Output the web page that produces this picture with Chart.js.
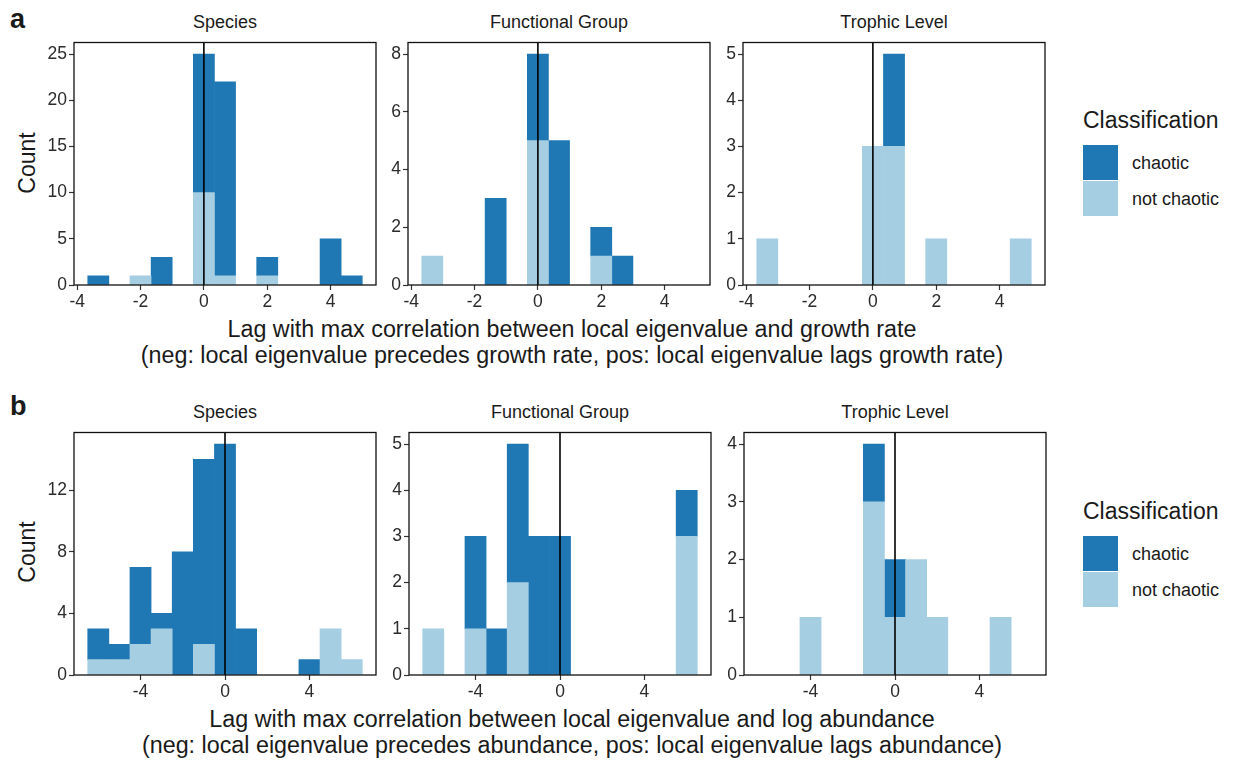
<!DOCTYPE html>
<html>
<head>
<meta charset="utf-8">
<script src="https://cdn.jsdelivr.net/npm/chart.js@4.4.0/dist/chart.umd.min.js"></script>
<style>
  body { margin: 0; background: #fff; font-family: "Liberation Sans", Arial, sans-serif; color: #1a1a1a; }
  #wrap { position: relative; width: 1233px; height: 763px; overflow: hidden; }
  canvas { position: absolute; }
  .txt { position: absolute; white-space: nowrap; line-height: 1; }
  .strip { font-size: 18px; transform: translateX(-50%); }
  .xtitle { font-size: 23.3px; transform: translateX(-50%); text-align: center; line-height: 26px; }
  .ytitle { font-size: 23px; transform: translate(-50%, -50%) rotate(-90deg); }
  .tag { font-size: 27px; font-weight: bold; }
  .lgtitle { font-size: 23px; }
  .key { position: absolute; width: 35px; height: 35px; }
  .lglab { font-size: 18px; }
</style>
</head>
<body>
<div id="wrap">
  <div class="txt tag" style="left:10px; top:6px;">a</div>
  <div class="txt tag" style="left:10px; top:393px;">b</div>

  <div class="txt strip" style="left:225px; top:13px;">Species</div>
  <div class="txt strip" style="left:559px; top:13px;">Functional Group</div>
  <div class="txt strip" style="left:894px; top:13px;">Trophic Level</div>
  <div class="txt strip" style="left:225px; top:403px;">Species</div>
  <div class="txt strip" style="left:560px; top:403px;">Functional Group</div>
  <div class="txt strip" style="left:895px; top:403px;">Trophic Level</div>

  <div class="txt ytitle" style="left:27px; top:163px;">Count</div>
  <div class="txt ytitle" style="left:27px; top:552px;">Count</div>

  <div class="txt xtitle" style="left:572px; top:316px;">Lag with max correlation between local eigenvalue and growth rate<br>(neg: local eigenvalue precedes growth rate, pos: local eigenvalue lags growth rate)</div>
  <div class="txt xtitle" style="left:572px; top:706px;">Lag with max correlation between local eigenvalue and log abundance<br>(neg: local eigenvalue precedes abundance, pos: local eigenvalue lags abundance)</div>

  <div class="txt lgtitle" style="left:1083px; top:109px;">Classification</div>
  <div class="key" style="left:1083px; top:145px; background:#1F78B4;"></div>
  <div class="key" style="left:1083px; top:181px; background:#A6CEE3;"></div>
  <div class="txt lglab" style="left:1132px; top:154px;">chaotic</div>
  <div class="txt lglab" style="left:1132px; top:190px;">not chaotic</div>

  <div class="txt lgtitle" style="left:1083px; top:500px;">Classification</div>
  <div class="key" style="left:1083px; top:536px; background:#1F78B4;"></div>
  <div class="key" style="left:1083px; top:572px; background:#A6CEE3;"></div>
  <div class="txt lglab" style="left:1132px; top:545px;">chaotic</div>
  <div class="txt lglab" style="left:1132px; top:581px;">not chaotic</div>

  <canvas id="a1"></canvas>
  <canvas id="a2"></canvas>
  <canvas id="a3"></canvas>
  <canvas id="b1"></canvas>
  <canvas id="b2"></canvas>
  <canvas id="b3"></canvas>
</div>
<script>
// bin centres (lag) for each row
var binsA = [-3.333, -2.667, -2, -1.333, -0.667, 0, 0.667, 1.333, 2, 2.667, 3.333, 4, 4.667];
var binsB = [-6, -5, -4, -3, -2, -1, 0, 1, 2, 3, 4, 5, 6];

// row a: growth rate
var speciesA_not   = [0, 0, 1, 0, 0, 10, 1, 0, 1, 0, 0, 0, 0];
var speciesA_chaos = [1, 0, 0, 3, 0, 15, 21, 0, 2, 0, 0, 5, 1];
var groupA_not     = [1, 0, 0, 0, 0, 5, 0, 0, 1, 0, 0, 0, 0];
var groupA_chaos   = [0, 0, 0, 3, 0, 3, 5, 0, 1, 1, 0, 0, 0];
var trophicA_not   = [1, 0, 0, 0, 0, 3, 3, 0, 1, 0, 0, 0, 1];
var trophicA_chaos = [0, 0, 0, 0, 0, 0, 2, 0, 0, 0, 0, 0, 0];

// row b: log abundance
var speciesB_not   = [1, 1, 2, 3, 0, 2, 0, 0, 0, 0, 0, 3, 1];
var speciesB_chaos = [2, 1, 5, 1, 8, 12, 15, 3, 0, 0, 1, 0, 0];
var groupB_not     = [1, 0, 1, 0, 2, 0, 0, 0, 0, 0, 0, 0, 3];
var groupB_chaos   = [0, 0, 2, 1, 3, 3, 3, 0, 0, 0, 0, 0, 1];
var trophicB_not   = [0, 0, 1, 0, 0, 3, 1, 2, 1, 0, 0, 1, 0];
var trophicB_chaos = [0, 0, 0, 0, 0, 1, 1, 0, 0, 0, 0, 0, 0];

// tick labels
var xTicksA = [-4, -2, 0, 2, 4];
var xTicksB = [-4, 0, 4];
var yTicksA1 = [0, 5, 10, 15, 20, 25];
var yTicksA2 = [0, 2, 4, 6, 8];
var yTicksA3 = [0, 1, 2, 3, 4, 5];
var yTicksB1 = [0, 4, 8, 12];
var yTicksB2 = [0, 1, 2, 3, 4, 5];
var yTicksB3 = [0, 1, 2, 3, 4];

var DARK = '#1F78B4';
var LIGHT = '#A6CEE3';
var AXW = 45, PADT = 10, PADR = 5, AXH = 36;
var PW = 302, PH = 245;

var framePlugin = {
  id: 'frame',
  afterDatasetsDraw: function(chart) {
    var ctx = chart.ctx, a = chart.chartArea;
    var px = chart.scales.x.getPixelForValue(0);
    ctx.save();
    ctx.strokeStyle = '#000';
    ctx.lineWidth = 1.6;
    ctx.beginPath();
    ctx.moveTo(px, a.top);
    ctx.lineTo(px, a.bottom);
    ctx.stroke();
    ctx.lineWidth = 1.3;
    ctx.strokeStyle = '#111';
    ctx.strokeRect(a.left, a.top, a.right - a.left, a.bottom - a.top);
    ctx.restore();
  }
};

function points(bins, vals) {
  return bins.map(function(b, i) { return {x: b, y: vals[i] === 0 ? null : vals[i]}; });
}

function panel(id, left, top, bins, notVals, chaosVals, xr, xTicks, yMax, yTicks) {
  var cv = document.getElementById(id);
  cv.width = AXW + PW + PADR;
  cv.height = PADT + PH + AXH;
  cv.style.left = (left - AXW) + 'px';
  cv.style.top = (top - PADT) + 'px';

  new Chart(cv, {
    type: 'bar',
    data: {
      datasets: [
        {label: 'not chaotic', data: points(bins, notVals), backgroundColor: LIGHT, borderWidth: 0},
        {label: 'chaotic', data: points(bins, chaosVals), backgroundColor: DARK, borderWidth: 0}
      ]
    },
    options: {
      responsive: false,
      animation: false,
      devicePixelRatio: 1,
      layout: {padding: {left: 0, top: PADT, right: PADR, bottom: 0}},
      plugins: {legend: {display: false}, tooltip: {enabled: false}},
      datasets: {bar: {barPercentage: 1, categoryPercentage: 1}},
      scales: {
        x: {
          type: 'linear', stacked: true, offset: false,
          min: xr[0], max: xr[1],
          afterBuildTicks: function(s) { s.ticks = xTicks.map(function(v) { return {value: v}; }); },
          afterFit: function(s) { s.height = AXH; },
          border: {display: false},
          grid: {offset: false, drawOnChartArea: false, drawTicks: true, tickLength: 5, tickColor: '#333', tickWidth: 1.2, color: 'rgba(0,0,0,0)'},
          ticks: {color: '#2b2b2b', padding: 2, maxRotation: 0, autoSkip: false, font: {family: '"Liberation Sans", Arial', size: 17.5}}
        },
        y: {
          stacked: true, min: 0, max: yMax,
          afterBuildTicks: function(s) { s.ticks = yTicks.map(function(v) { return {value: v}; }); },
          afterFit: function(s) { s.width = AXW; },
          border: {display: false},
          grid: {offset: false, drawOnChartArea: false, drawTicks: true, tickLength: 5, tickColor: '#333', tickWidth: 1.2, color: 'rgba(0,0,0,0)'},
          ticks: {color: '#2b2b2b', padding: 2, autoSkip: false, font: {family: '"Liberation Sans", Arial', size: 17.5}}
        }
      }
    },
    plugins: [framePlugin]
  });
}

var xrA = [-4.1, 5.433];
var xrB = [-7.15, 7.15];

panel('a1', 74, 40, binsA, speciesA_not, speciesA_chaos, xrA, xTicksA, 26.25, yTicksA1);
panel('a2', 408, 40, binsA, groupA_not, groupA_chaos, xrA, xTicksA, 8.4, yTicksA2);
panel('a3', 743, 40, binsA, trophicA_not, trophicA_chaos, xrA, xTicksA, 5.25, yTicksA3);
panel('b1', 74, 430, binsB, speciesB_not, speciesB_chaos, xrB, xTicksB, 15.75, yTicksB1);
panel('b2', 409, 430, binsB, groupB_not, groupB_chaos, xrB, xTicksB, 5.25, yTicksB2);
panel('b3', 744, 430, binsB, trophicB_not, trophicB_chaos, xrB, xTicksB, 4.2, yTicksB3);
</script>
</body>
</html>
